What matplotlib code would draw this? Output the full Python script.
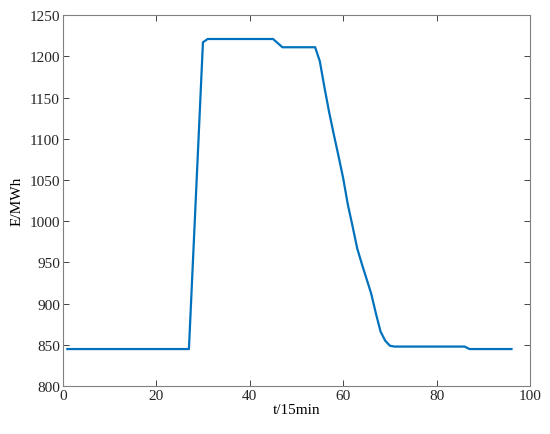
import matplotlib
matplotlib.use('Agg')
from matplotlib import pyplot as plt

# time steps (15 min) and stored energy (MWh)
t = list(range(1, 97))
energy = ([845] * 26 +                      # 1..26
          [845, 969, 1093, 1217] +          # 27..30
          [1221] * 14 +                     # 31..44
          [1221, 1216, 1211] +              # 45..47
          [1211] * 7 +                      # 48..54
          [1194, 1162, 1132, 1105, 1079, 1052, 1020, 994,
           967, 948, 930, 912, 888, 866, 855, 849] +   # 55..70
          [848] * 16 +                      # 71..86
          [845] * 10)                       # 87..96

plt.rcParams['font.family'] = ['Liberation Serif', 'DejaVu Serif']

fig = plt.figure(figsize=(5.5, 4.35), dpi=100)
ax = fig.add_axes([0.114, 0.110, 0.850, 0.853])
ax.plot(t, energy, color='#0072BD', linewidth=1.6)

ax.set_xlim(0, 100)
ax.set_ylim(800, 1250)
ax.set_xticks(range(0, 101, 20))
ax.set_yticks(range(800, 1251, 50))
ax.set_xlabel('t/15min', fontsize=11, labelpad=1)
ax.set_ylabel('E/MWh', fontsize=11, labelpad=4)
ax.tick_params(direction='in', top=True, right=True, length=4,
               labelsize=11, colors='#262626', width=0.6, pad=2)
for s in ax.spines.values():
    s.set_color('#808080')
    s.set_linewidth(0.8)

fig.savefig('out.png', dpi=100)
